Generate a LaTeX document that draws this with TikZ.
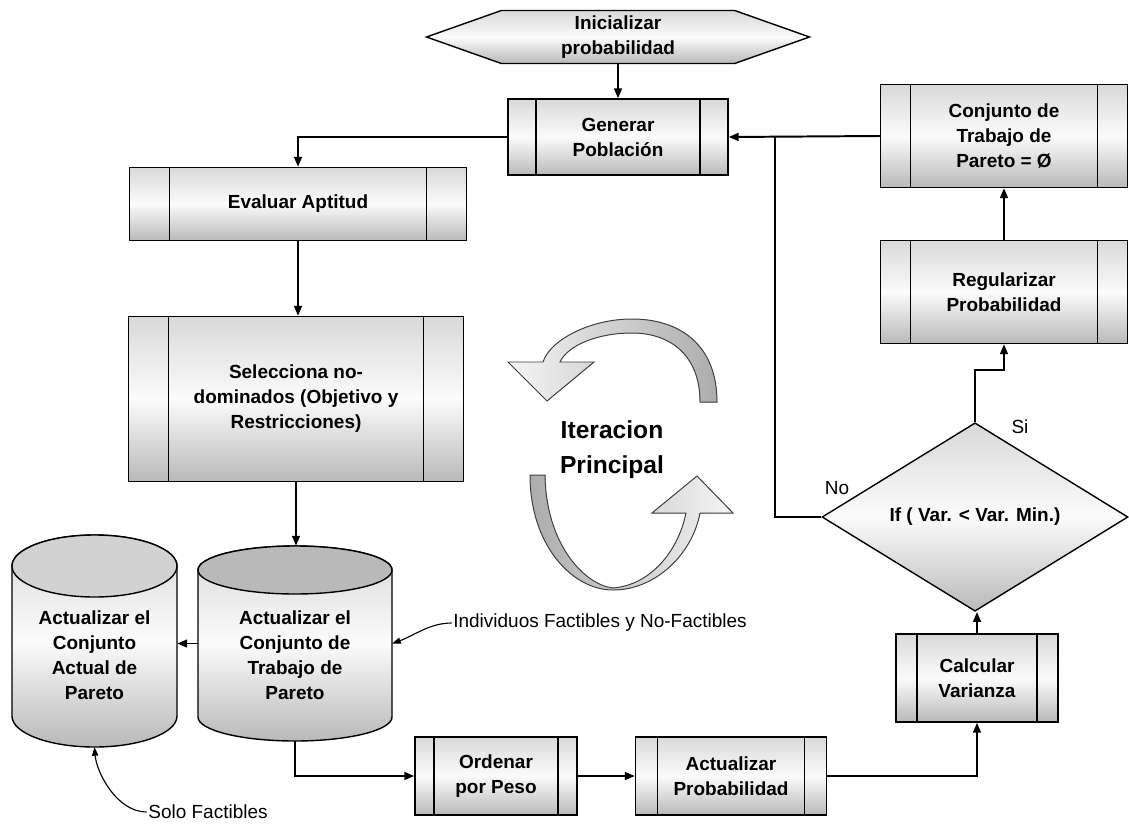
\documentclass[tikz,border=0pt]{standalone}
\usepackage{fontspec}
\setmainfont{Liberation Sans}
\usetikzlibrary{arrows.meta,shapes.geometric,shapes.symbols}
\newcommand{\pix}{0.025cm}

\begin{document}
\begin{tikzpicture}[x=\pix,y=-\pix,font=\fontsize{13.5}{17.8}\selectfont,
  sz/.style 2 args={minimum width=#1*\pix,minimum height=#2*\pix},
  shd/.style={top color=gray!30,bottom color=gray!55,middle color=gray!3},
  bx/.style={draw,line width=1pt,shd,inner sep=0pt,align=center,font=\fontsize{13.5}{17.8}\selectfont\bfseries},
  proc/.style={bx,path picture={
      \draw[line width=1pt] ([xshift=#1*\pix]path picture bounding box.north west) -- ([xshift=#1*\pix]path picture bounding box.south west);
      \draw[line width=1pt] ([xshift=-#1*\pix]path picture bounding box.north east) -- ([xshift=-#1*\pix]path picture bounding box.south east);}},
  proc/.default=25,
  drum/.style={draw,line width=1pt,shd},
  lid/.style={fill=#1,draw=black,line width=1pt},
  dbn/.style={inner sep=0pt},
  dbtxt/.style={align=center,inner sep=0pt,font=\fontsize{13.5}{17.8}\selectfont\bfseries},
  note/.style={font=\fontsize{13.5}{16}\selectfont,inner sep=1pt},
  arr/.style={-{Triangle[length=7pt,width=5.5pt]},line width=1.4pt},
  ln/.style={line width=1.4pt},
  ptr/.style={-{Triangle[length=6pt,width=4.5pt]},line width=0.8pt},
  loop/.style={draw=gray!50!black,line width=0.7pt}]
\useasboundingbox (0,0) rectangle (1129,829);

\shade[drum] (198,570) arc[start angle=180,end angle=360,x radius=97,y radius=24] -- (392,717) arc[start angle=0,end angle=180,x radius=97,y radius=24] -- cycle;
\path[lid=gray!55] (295,570) ellipse [x radius=97,y radius=24];
\shade[drum] (12,566) arc[start angle=180,end angle=360,x radius=82.5,y radius=31] -- (177,716) arc[start angle=0,end angle=180,x radius=82.5,y radius=31] -- cycle;
\path[lid=gray!35] (94.5,566) ellipse [x radius=82.5,y radius=31];

\node[bx,signal,signal to=west and east,signal pointer angle=39,sz={383}{53}] (ini) at (618,37) {Inicializar\\probabilidad};
\node[proc=28,sz={220}{76}] (gen) at (618,137) {Generar\\Población};
\node[proc=40,sz={337}{73}] (eval) at (298,204) {Evaluar Aptitud};
\node[proc=40,sz={335}{165}] (sel) at (296,399) {Selecciona no-\\dominados (Objetivo y\\Restricciones)};
\node[dbn,sz={194}{195}] (trab) at (295,643.5) {};
\node[dbtxt] (trabtxt) at (295,655) {Actualizar el\\Conjunto de\\Trabajo de\\Pareto};
\node[dbn,sz={165}{212}] (act) at (94.5,641) {};
\node[dbtxt] (acttxt) at (94.5,655) {Actualizar el\\Conjunto\\Actual de\\Pareto};
\node[proc=19,sz={162}{78}] (ord) at (496,776) {Ordenar\\por Peso};
\node[proc=22,sz={191}{78}] (actp) at (731,776) {Actualizar\\Probabilidad};
\node[proc=21,sz={162}{88}] (calc) at (977,678) {Calcular\\Varianza};
\node[bx,diamond,sz={306}{140}] (dec) at (975,517) {If ( Var. < Var. Min.)};
\node[proc=30,sz={247}{103}] (reg) at (1004,292) {Regularizar\\Probabilidad};
\node[proc=30,sz={247}{103}] (conj) at (1004,136) {Conjunto de\\Trabajo de\\Pareto = Ø};
\coordinate (join) at (775,137);

\node[note] (indiv) at (600,623) {Individuos Factibles y No-Factibles};
\node[note] (solo) at (208,812) {Solo Factibles};
\node[note] (no) at (837,488) {No};
\node[note] (si) at (1020,427) {Si};

\fill[loop,left color=gray!8,right color=gray!65] (717,402) .. controls (717,345) and (680,319) .. (632,319) .. controls (590,319) and (550,340) .. (543,362) -- (508,362) -- (547,401) -- (594,362) -- (560,362) .. controls (568,345) and (598,333) .. (632,333) .. controls (670,333) and (700,355) .. (700,402) -- cycle;
\fill[loop,left color=gray!65,right color=gray!8] (530,475) .. controls (530,545) and (572,590) .. (613,590) .. controls (655,590) and (692,555) .. (700,513) -- (733,513) -- (697,476) -- (652,513) -- (686,513) .. controls (678,552) and (650,585) .. (613,588) .. controls (585,585) and (546,545) .. (545,475) -- cycle;
\node[font=\fontsize{17.5}{25}\selectfont\bfseries,align=center] (iter) at (612,450) {Iteracion\\Principal};

\draw[arr] (ini.south) -- (gen.north);
\draw[arr] (gen.west) -| (eval.north);
\draw[arr] (eval.south) -- (eval.south |- sel.north);
\draw[arr] (sel.south) -- (sel.south |- trab.north);
\draw[arr] (trab.west) -- (trab.west -| act.east);
\draw[arr] (trab.south) |- (ord.west);
\draw[arr] (ord.east) -- (actp.west);
\draw[arr] (actp.east) -| (calc.south);
\draw[arr] (calc.north) -- (calc.north |- dec.south);
\draw[arr] (dec.north) -- ++(0,-52) -| (reg.south);
\draw[arr] (reg.north) -- (conj.south);
\draw[arr] (conj.west) -- (gen.east);
\draw[ln] (dec.west) -| (join);
\draw[ptr] (indiv.west) .. controls +(-22,0) and +(22,-8) .. (trab.east);
\draw[ptr] (solo.west) .. controls +(-30,0) and +(2,25) .. (act.south);
\end{tikzpicture}
\end{document}
